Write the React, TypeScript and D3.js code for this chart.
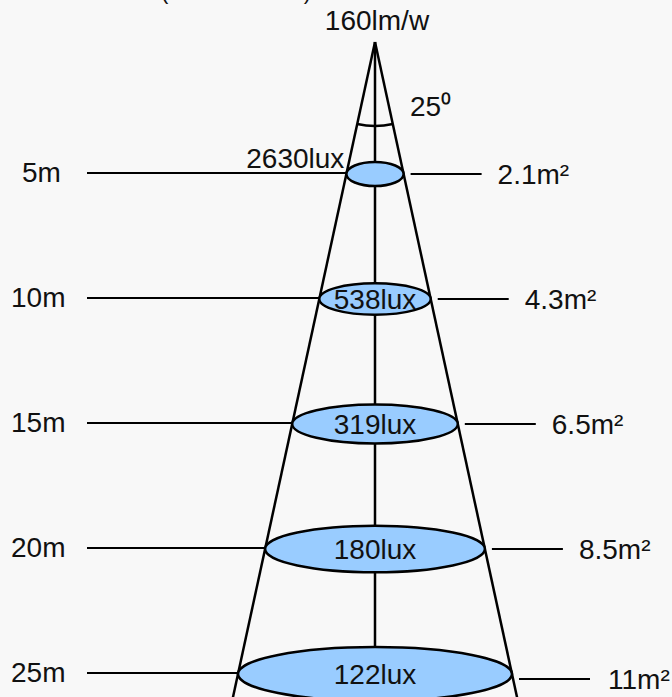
import { useEffect, useRef } from 'react';
import * as d3 from 'd3';

const distances = [5, 10, 15, 20, 25];
const distanceLabels = ['5m', '10m', '15m', '20m', '25m'];
const luxValues = [2630, 538, 319, 180, 122];
const areaLabels = ['2.1m²', '4.3m²', '6.5m²', '8.5m²', '11m²'];
const efficacyLabel = '160lm/w';
const beamAngleLabel = '25⁰';
const titleLabel = '(Illuminance data)';

const W = 672;
const H = 697;

export default function App() {
  const svgRef = useRef<SVGSVGElement>(null);

  useEffect(() => {
    if (!svgRef.current) return;
    const svg = d3.select(svgRef.current);
    svg.selectAll('*').remove();

    const font = '"Liberation Sans", Arial, sans-serif';
    const fs = '28px';
    const cx = 375;
    const apexY = 42;
    const bottomY = H + 10;

    const y = d3.scaleLinear().domain([5, 25]).range([174, 674]);
    // half width of the light cone at a given pixel y
    const halfW = d3.scaleLinear().domain([apexY, y(25)]).range([0, 137]);
    const ry = d3.scaleLinear().domain([5, 25]).range([12, 27]);

    svg.append('rect').attr('width', W).attr('height', H).attr('fill', '#f8f8f8');

    // title, cut at the top
    svg.append('text')
      .attr('x', 161)
      .attr('y', -1)
      .attr('textLength', 150)
      .attr('lengthAdjust', 'spacing')
      .style('font-family', font)
      .style('font-size', '22px')
      .attr('fill', '#111')
      .text(titleLabel);

    // cone + axis
    svg.append('line')
      .attr('x1', cx).attr('y1', apexY).attr('x2', cx).attr('y2', bottomY)
      .attr('stroke', '#000').attr('stroke-width', 2.5);
    [-1, 1].forEach((s) => {
      svg.append('line')
        .attr('x1', cx).attr('y1', apexY)
        .attr('x2', cx + s * halfW(bottomY)).attr('y2', bottomY)
        .attr('stroke', '#000').attr('stroke-width', 2.5);
    });

    // angle arc
    const half = Math.atan(halfW(y(25)) / (y(25) - apexY));
    const p = d3.path();
    p.arc(cx, apexY, 84, Math.PI / 2 - half, Math.PI / 2 + half);
    svg.append('path').attr('d', p.toString()).attr('fill', 'none')
      .attr('stroke', '#000').attr('stroke-width', 2.5);

    svg.append('text').attr('x', cx + 2).attr('y', 30).attr('text-anchor', 'middle')
      .style('font-family', font).style('font-size', fs).attr('fill', '#111')
      .text(efficacyLabel);
    svg.append('text').attr('x', 410).attr('y', 116)
      .style('font-family', font).style('font-size', fs).attr('fill', '#111')
      .text(beamAngleLabel);

    const g = svg.selectAll('g.level').data(distances).enter().append('g').attr('class', 'level');

    g.append('line')
      .attr('x1', 87)
      .attr('y1', (d) => y(d) - 1)
      .attr('x2', (d) => cx - halfW(y(d)))
      .attr('y2', (d) => y(d) - 1)
      .attr('stroke', '#000').attr('stroke-width', 2);

    const rightY = (d: number, i: number) => y(d) + (i === 4 ? 5 : 0);

    g.append('line')
      .attr('x1', (d) => cx + halfW(y(d)) + 7)
      .attr('y1', rightY)
      .attr('x2', (d) => cx + halfW(y(d)) + 78)
      .attr('y2', rightY)
      .attr('stroke', '#000').attr('stroke-width', 2);

    g.append('ellipse')
      .attr('cx', cx)
      .attr('cy', (d) => y(d))
      .attr('rx', (d) => halfW(y(d)))
      .attr('ry', (d) => ry(d))
      .attr('fill', '#99ccff')
      .attr('stroke', '#000')
      .attr('stroke-width', 2.5);

    g.append('text')
      .attr('x', (d, i) => (i === 0 ? 22 : 11))
      .attr('y', (d) => y(d) + 8)
      .style('font-family', font).style('font-size', fs).attr('fill', '#111')
      .text((d, i) => distanceLabels[i]);

    g.append('text')
      .attr('x', (d, i) => cx + halfW(y(d)) + (i === 4 ? 96 : 94))
      .attr('y', (d, i) => rightY(d, i) + 10)
      .style('font-family', font).style('font-size', fs).attr('fill', '#111')
      .text((d, i) => areaLabels[i]);

    g.append('text')
      .attr('x', (d, i) => (i === 0 ? cx - halfW(y(d)) - 2 : cx))
      .attr('y', (d, i) => (i === 0 ? y(d) - 6 : y(d) + 10))
      .attr('text-anchor', (d, i) => (i === 0 ? 'end' : 'middle'))
      .style('font-family', font).style('font-size', fs).attr('fill', '#111')
      .text((d, i) => `${luxValues[i]}lux`);
  }, []);

  return (
    <svg
      ref={svgRef}
      width={W}
      height={H}
      style={{ position: 'absolute', left: 0, top: 0 }}
    />
  );
}
